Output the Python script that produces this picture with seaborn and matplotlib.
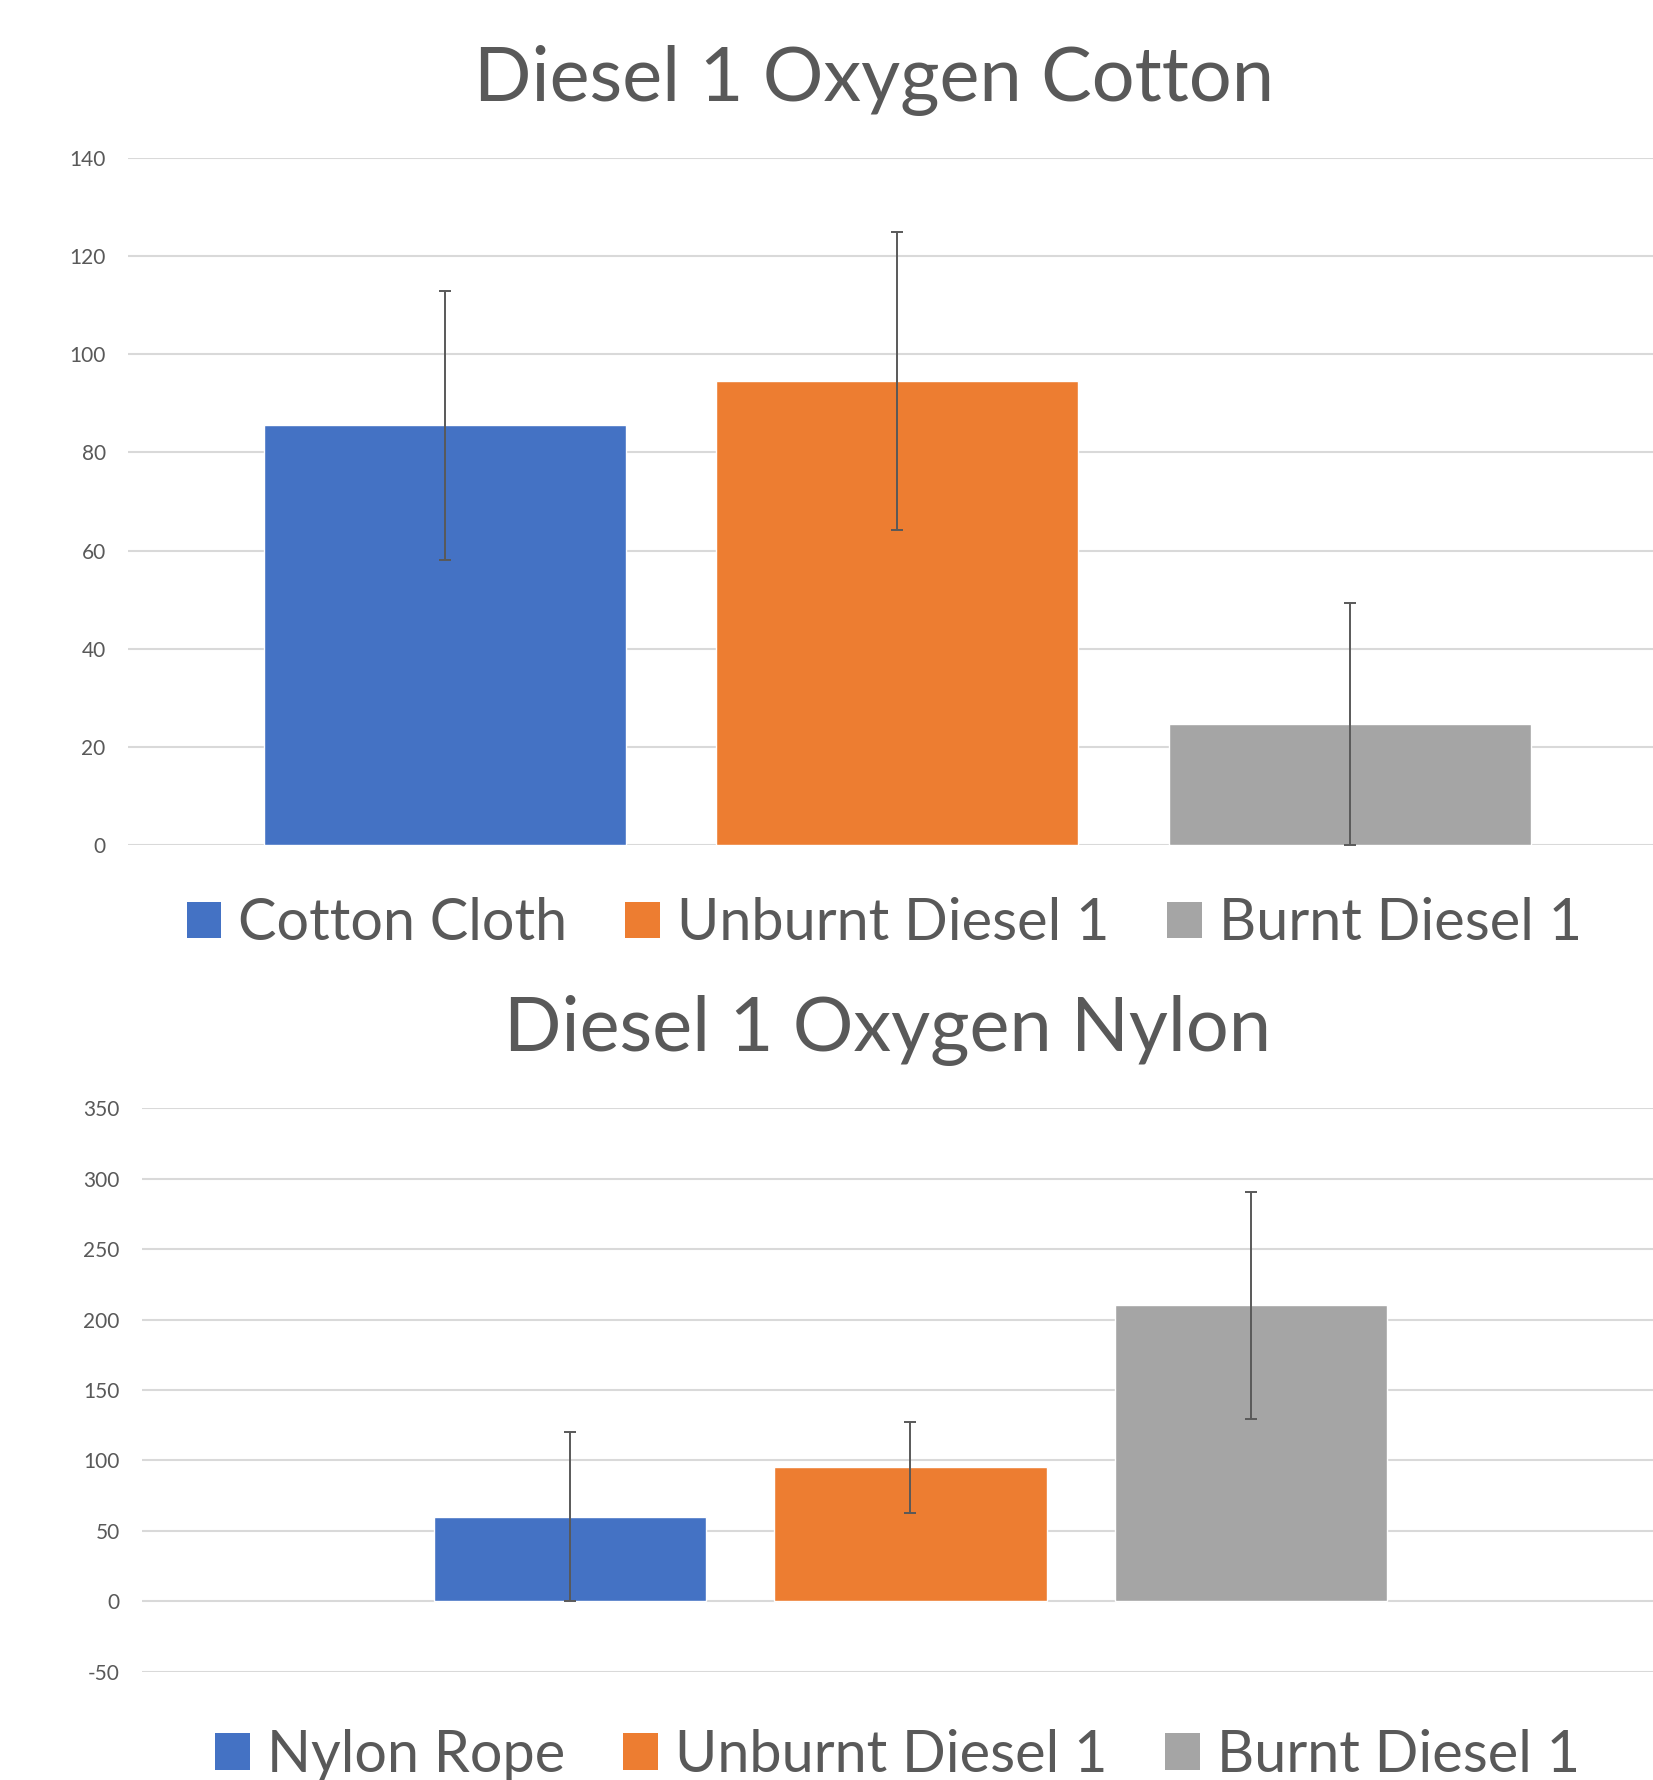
import matplotlib
matplotlib.use('Agg')
import matplotlib.pyplot as plt
from matplotlib.patches import Patch
import pandas as pd
import seaborn as sns

# values
cotton_series = ['Cotton Cloth', 'Unburnt Diesel 1', 'Burnt Diesel 1']
cotton_means = [85.5, 94.5, 24.7]
cotton_errs = [27.5, 30.4, 24.7]

nylon_series = ['Nylon Rope', 'Unburnt Diesel 1', 'Burnt Diesel 1']
nylon_means = [60.0, 95.2, 210.0]
nylon_errs = [60.0, 32.4, 80.6]

colors = ['#4472C4', '#ED7D31', '#A5A5A5']
text_color = '#595959'

sns.set_style('white')
plt.rcParams['font.family'] = ['Lato', 'DejaVu Sans']
plt.rcParams['axes.unicode_minus'] = False

fig = plt.figure(figsize=(16.53, 17.80), dpi=100)


def draw_panel(rect, names, means, errs, ylim, yticks, xlim, title, title_xy, legend_xy):
    ax = fig.add_axes(rect)
    df = pd.DataFrame({'series': names, 'value': means})
    sns.barplot(data=df, x='series', y='value', hue='series', palette=colors,
                width=0.8, errorbar=None, legend=False, saturation=1, ax=ax)
    ax.errorbar(range(len(means)), means, yerr=errs, fmt='none', ecolor=text_color,
                elinewidth=1.4, capsize=4, capthick=1.4, zorder=5)

    ax.set_ylim(*ylim)
    ax.set_yticks(yticks)
    ax.set_xlim(*xlim)
    ax.set_xticks([])
    ax.set_xlabel('')
    ax.set_ylabel('')
    ax.yaxis.grid(True, color='#D9D9D9', linewidth=1.5)
    ax.set_axisbelow(True)
    for s in ax.spines.values():
        s.set_visible(False)
    ax.tick_params(axis='y', length=0, pad=16, labelsize=15, labelcolor=text_color)

    fig.text(title_xy[0], title_xy[1], title, ha='center', va='center',
             fontsize=54.5, color=text_color)

    handles = [Patch(facecolor=c, edgecolor='none') for c in colors]
    fig.legend(handles, names, loc='center', bbox_to_anchor=legend_xy, ncol=3,
               frameon=False, fontsize=41.5, labelcolor=text_color,
               handlelength=0.6, handleheight=0.6, handletextpad=0.3,
               columnspacing=1.0)
    return ax


draw_panel([0.0774, 0.5253, 0.9307, 0.3859], cotton_series, cotton_means, cotton_errs,
           (0, 140), range(0, 141, 20), (-0.70, 2.70), 'Diesel 1 Oxygen Cotton',
           (0.5287, 0.955), (0.535, 0.481))

draw_panel([0.0859, 0.0607, 0.9298, 0.3168], nylon_series, nylon_means, nylon_errs,
           (-50, 350), range(-50, 351, 50), (-1.257, 3.257), 'Diesel 1 Oxygen Nylon',
           (0.537, 0.421), (0.543, 0.014))

fig.savefig('out.png', dpi=100)
